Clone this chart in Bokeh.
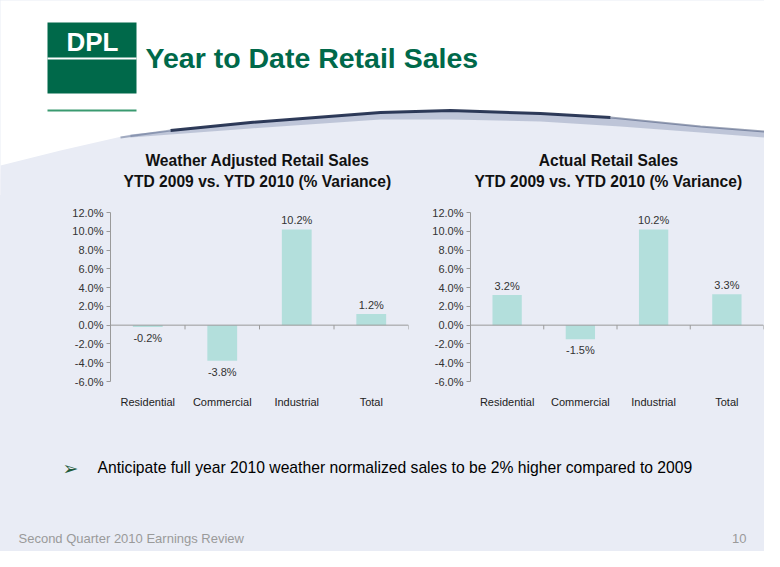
from bokeh.plotting import figure
from bokeh.layouts import column, row
from bokeh.models import Range1d, FixedTicker, PrintfTickFormatter, Span, ColumnDataSource
from bokeh.core.properties import value
from bokeh.embed import file_html
from bokeh.resources import INLINE

# ---------------- data ----------------
categories = ["Residential", "Commercial", "Industrial", "Total"]
weather_adjusted = [-0.2, -3.8, 10.2, 1.2]
actual = [3.2, -1.5, 10.2, 3.3]
y_ticks = [-6, -4, -2, 0, 2, 4, 6, 8, 10, 12]

slide_title = "Year to Date Retail Sales"
left_title = ["Weather Adjusted Retail Sales", "YTD 2009 vs. YTD 2010 (% Variance)"]
right_title = ["Actual Retail Sales", "YTD 2009 vs. YTD 2010 (% Variance)"]
bullet = "Anticipate full year 2010 weather normalized sales to be 2% higher compared to 2009"
footer_left = "Second Quarter 2010 Earnings Review"
footer_right = "10"

BG = "#e9ecf5"
GREEN = "#00694a"
BAR = "#b3dfdc"
FONT = "Liberation Sans"
W = 764


def blank(width, height, x0, x1, y0, y1, bg):
    f = figure(width=width, height=height, x_range=Range1d(x0, x1), y_range=Range1d(y1, y0),
               output_backend="svg", toolbar_location=None, min_border=0,
               background_fill_color=bg, border_fill_color=bg)
    f.axis.visible = False
    f.grid.visible = False
    f.outline_line_color = None
    return f


# ---------------- header ----------------
hdr = blank(W, 195, 0, W, 0, 195, "white")
# soft tinted area below the swoosh
cx = [0, 60, 130, 250, 380, 450, 540, 620, 700, 764]
cy = [165, 150, 134, 122, 112, 110, 113, 118, 126, 131]
for k, a in enumerate([0.35, 0.35, 0.35, 1.0]):
    d = [14, 9, 4, 0][k]
    hdr.patch(cx + [W, 0], [y + d for y in cy] + [195, 195], fill_color=BG, fill_alpha=a,
              line_color=None)
hdr.patch([130, 250, 380, 450, 540, 620, 700, 764, 764, 700, 620, 540, 450, 380, 250, 130],
          [134, 122, 112, 110, 113, 118, 126, 131, 137, 132, 126, 121, 119, 119, 128, 137],
          fill_color="#9aa6c0", fill_alpha=0.55, line_color=None)
hdr.line([170, 250, 380, 450, 540, 610], [130, 122, 112, 110, 113, 117],
         line_color="#1a2748", line_width=3, line_alpha=0.9)
hdr.line([120, 170], [137, 130], line_color="#4a5a80", line_width=2, line_alpha=0.45)
hdr.line([610, 700, 764], [117, 126, 131], line_color="#3a4a70", line_width=2, line_alpha=0.5)

# logo
hdr.quad(left=47, right=136, top=22, bottom=93, fill_color=GREEN, line_color=None)
hdr.segment(x0=47, y0=58, x1=136, y1=58, line_color="white", line_width=2)
hdr.text(x=[92], y=[41], text=["DPL"], text_color="white", text_font=value(FONT),
         text_font_style="bold", text_font_size="26px", text_align="center", text_baseline="middle")
hdr.segment(x0=47, y0=110, x1=136, y1=110, line_color="#3a9a70", line_width=2)
hdr.text(x=[145], y=[57], text=[slide_title], text_color=GREEN, text_font=value(FONT),
         text_font_style="bold", text_font_size="28.5px", text_align="left", text_baseline="middle")

# chart titles
for cxc, lines in ((257, left_title), (608, right_title)):
    hdr.text(x=[cxc, cxc], y=[160, 181], text=lines, text_color="#111111", text_font=value(FONT),
             text_font_style="bold", text_font_size="15.6px", text_align="center",
             text_baseline="middle")


# ---------------- bar charts ----------------
def bar_chart(vals, width, left_border, right_border):
    p = figure(width=width, height=215, x_range=Range1d(0, len(categories)),
               y_range=Range1d(y_ticks[0], y_ticks[-1]),
               output_backend="svg", toolbar_location=None,
               min_border_left=left_border, min_border_right=right_border,
               min_border_top=17, min_border_bottom=27,
               background_fill_color=BG, border_fill_color=BG)
    p.outline_line_color = None
    p.grid.visible = False
    xs = [i + 0.5 for i in range(len(categories))]
    src = ColumnDataSource(dict(x=xs, top=vals))
    p.vbar(x="x", top="top", bottom=0, width=0.4, source=src, fill_color=BAR, line_color=None)
    p.add_layout(Span(location=0, dimension="width", line_color="#9a9a9a", line_width=1))
    bounds = list(range(1, len(categories) + 1))
    p.segment(x0=bounds, x1=bounds, y0=[0] * len(bounds), y1=[-0.45] * len(bounds),
              line_color="#9a9a9a", line_width=1)
    pos = dict(x=[x for x, v in zip(xs, vals) if v >= 0],
               y=[v for v in vals if v >= 0],
               t=[f"{v:.1f}%" for v in vals if v >= 0])
    neg = dict(x=[x for x, v in zip(xs, vals) if v < 0],
               y=[v for v in vals if v < 0],
               t=[f"{v:.1f}%" for v in vals if v < 0])
    for d, off in ((pos, -9), (neg, 11)):
        p.text(x=d["x"], y=d["y"], text=d["t"], y_offset=off, text_align="center",
               text_baseline="middle", text_font=value(FONT), text_font_size="11px",
               text_color="#333333")
    # y axis
    ya = p.yaxis[0]
    ya.ticker = FixedTicker(ticks=y_ticks)
    ya.formatter = PrintfTickFormatter(format="%.1f%%")
    ya.axis_line_color = "#9a9a9a"
    ya.major_tick_line_color = "#9a9a9a"
    ya.major_tick_out = 4
    ya.major_tick_in = 0
    ya.minor_tick_line_color = None
    ya.major_label_text_font = FONT
    ya.major_label_text_font_size = "11px"
    ya.major_label_text_color = "#333333"
    ya.major_label_standoff = 3
    # x axis: category labels only
    xa = p.xaxis[0]
    xa.ticker = FixedTicker(ticks=xs)
    xa.major_label_overrides = {x: c for x, c in zip(xs, categories)}
    xa.axis_line_color = None
    xa.major_tick_line_color = None
    xa.minor_tick_line_color = None
    xa.major_label_text_font = FONT
    xa.major_label_text_font_size = "11px"
    xa.major_label_text_color = "#222222"
    xa.major_label_standoff = 8
    return p


left = bar_chart(weather_adjusted, 420, 110, 12)
right = bar_chart(actual, W - 420, 50, 1)

# ---------------- footer ----------------
ftr = blank(W, 551 - 410, 0, W, 410, 551, BG)
ftr.text(x=[70], y=[467], text=["\u27a2"], text_color="#1f5a3a", text_font=value("DejaVu Sans"),
         text_font_size="19px", text_align="center", text_baseline="middle")
ftr.text(x=[97], y=[467], text=[bullet], text_color="#000000", text_font=value(FONT),
         text_font_size="15.7px", text_align="left", text_baseline="middle")
ftr.text(x=[18], y=[538], text=[footer_left], text_color="#9a9a9a", text_font=value(FONT),
         text_font_size="13px", text_align="left", text_baseline="middle")
ftr.text(x=[746], y=[538], text=[footer_right], text_color="#9a9a9a", text_font=value(FONT),
         text_font_size="13px", text_align="right", text_baseline="middle")

charts = row(left, right, spacing=0, styles={"background-color": BG})
layout = column(hdr, charts, ftr, spacing=0, styles={"background-color": BG})
open("out.html", "w").write(file_html(layout, INLINE))
